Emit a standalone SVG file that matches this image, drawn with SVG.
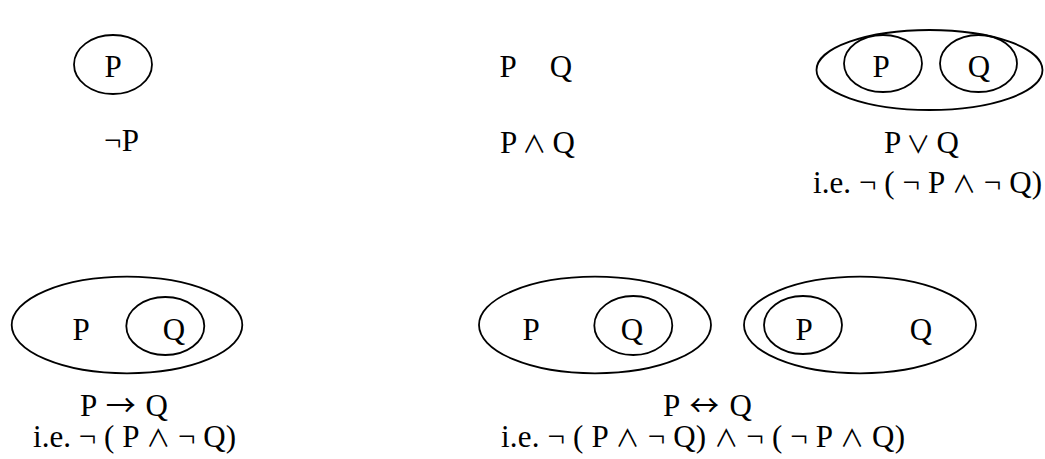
<svg xmlns="http://www.w3.org/2000/svg" width="1045" height="459" viewBox="0 0 1045 459">
<style>
.e{fill:none;stroke:#000;stroke-width:1.8}
.t{font-family:'Liberation Serif',serif;font-size:31px;fill:#000}
.m{text-anchor:middle}
.a{font-family:'Noto Sans CJK JP','DejaVu Sans',sans-serif;font-size:30px}
.o{font-family:'Noto Sans CJK JP','DejaVu Serif',sans-serif;font-size:24px}
</style>
<rect width="1045" height="459" fill="#fff"/>
<g id="not">
<ellipse class="e" cx="113" cy="64.5" rx="39" ry="29.5"/>
<text class="t m" x="113" y="77">P</text>
<text class="t" x="104" y="151" textLength="35" lengthAdjust="spacing">¬P</text>
</g>
<g id="and">
<text class="t m" x="508" y="77">P</text>
<text class="t m" x="561" y="77">Q</text>
<text class="t" x="500" y="153" textLength="75" lengthAdjust="spacing">P <tspan class="o">∧</tspan> Q</text>
</g>
<g id="or">
<ellipse class="e" cx="929.5" cy="70" rx="113" ry="40"/>
<ellipse class="e" cx="883" cy="63.5" rx="39" ry="28.5"/>
<ellipse class="e" cx="978.5" cy="63.5" rx="38.5" ry="28.5"/>
<text class="t m" x="881" y="77">P</text>
<text class="t m" x="979" y="77">Q</text>
<text class="t" x="884" y="153" textLength="75" lengthAdjust="spacing">P <tspan class="o">∨</tspan> Q</text>
<text class="t" x="813" y="193" textLength="229" lengthAdjust="spacing">i.e. ¬ ( ¬ P <tspan class="o">∧</tspan> ¬ Q)</text>
</g>
<g id="implies">
<ellipse class="e" cx="127" cy="325" rx="115.3" ry="48.3"/>
<ellipse class="e" cx="165.3" cy="326" rx="39" ry="29"/>
<text class="t m" x="81" y="340">P</text>
<text class="t m" x="174" y="340">Q</text>
<text class="t" x="80" y="416" textLength="88" lengthAdjust="spacing">P <tspan class="a">→</tspan> Q</text>
<text class="t" x="33" y="447" textLength="203" lengthAdjust="spacing">i.e. ¬ ( P <tspan class="o">∧</tspan> ¬ Q)</text>
</g>
<g id="iff">
<ellipse class="e" cx="595" cy="325" rx="116" ry="48.3"/>
<ellipse class="e" cx="633.3" cy="325.5" rx="39" ry="29.5"/>
<text class="t m" x="531" y="340">P</text>
<text class="t m" x="632" y="340">Q</text>
<ellipse class="e" cx="860" cy="325" rx="116" ry="48.3"/>
<ellipse class="e" cx="803" cy="325" rx="39" ry="29"/>
<text class="t m" x="804" y="340">P</text>
<text class="t m" x="921" y="340">Q</text>
<text class="t" x="663" y="416" textLength="89" lengthAdjust="spacing">P <tspan class="a">↔</tspan> Q</text>
<text class="t" x="501" y="447" textLength="404" lengthAdjust="spacing">i.e. ¬ ( P <tspan class="o">∧</tspan> ¬ Q) <tspan class="o">∧</tspan> ¬ ( ¬ P <tspan class="o">∧</tspan> Q)</text>
</g>
<g id="connectors"></g>
</svg>
